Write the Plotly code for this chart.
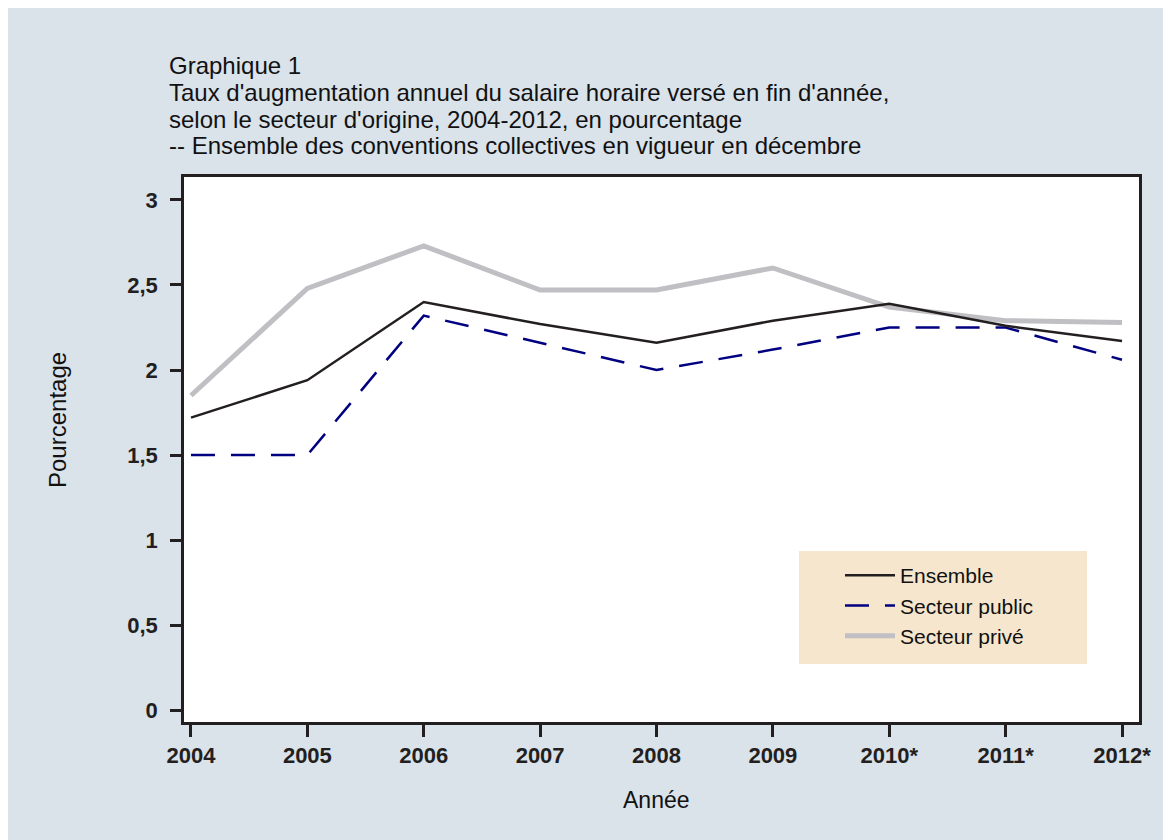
import plotly.graph_objects as go

annees = ["2004", "2005", "2006", "2007", "2008", "2009", "2010*", "2011*", "2012*"]
ensemble = [1.72, 1.94, 2.40, 2.27, 2.16, 2.29, 2.39, 2.26, 2.17]
secteur_public = [1.50, 1.50, 2.32, 2.16, 2.00, 2.12, 2.25, 2.25, 2.06]
secteur_prive = [1.85, 2.48, 2.73, 2.47, 2.47, 2.60, 2.37, 2.29, 2.28]
y_ticks = [0, 0.5, 1, 1.5, 2, 2.5, 3]
titre = [
    "Graphique 1",
    "Taux d'augmentation annuel du salaire horaire versé en fin d'année,",
    "selon le secteur d'origine, 2004-2012, en pourcentage",
    "-- Ensemble des conventions collectives en vigueur en décembre",
]

OFF = 8  # page body margin
W, H = 1171 - OFF, 840 - OFF
# plot area in page pixels: left 184, right 1139, top 177, bottom 722
L, T = 184 - OFF, 177 - OFF
R = W - (1139 - OFF)
B = H - (722 - OFF)
pw, ph = W - L - R, H - T - B


def px(x):
    return (x - OFF - L) / pw


def py(y):
    return (H - B - (y - OFF)) / ph


FONT = "Liberation Sans, Arial, sans-serif"
INK = "#231f20"
BG = "#dae2ea"

fig = go.Figure()
fig.add_trace(go.Scatter(x=annees, y=secteur_prive, name="Secteur privé", mode="lines",
                         legendrank=3, legendgroup="c",
                         line=dict(color="#c0c0c4", width=5)))
fig.add_trace(go.Scatter(x=annees, y=secteur_public, name="Secteur public", mode="lines",
                         legendrank=2, legendgroup="b",
                         line=dict(color="#000080", width=2.5, dash="24px,16px")))
fig.add_trace(go.Scatter(x=annees, y=ensemble, name="Ensemble", mode="lines",
                         legendrank=1, legendgroup="a",
                         line=dict(color=INK, width=2.5)))

annotations = []
for i, ligne in enumerate(titre):
    annotations.append(dict(xref="paper", yref="paper", x=px(167), y=py(65 + 27 * i),
                            xanchor="left", yanchor="middle", align="left", showarrow=False,
                            text=ligne, font=dict(size=24, family=FONT, color="#111")))
annotations += [
    dict(xref="paper", yref="paper", x=px(57), y=py(420), textangle=-90,
         xanchor="center", yanchor="middle", showarrow=False, text="Pourcentage",
         font=dict(size=24, family=FONT, color="#111")),
    dict(xref="paper", yref="paper", x=px(656), y=py(800),
         xanchor="center", yanchor="middle", showarrow=False, text="Année",
         font=dict(size=23, family=FONT, color="#111")),
]

fig.update_layout(
    width=W, height=H,
    margin=dict(l=L, r=R, t=T, b=B),
    paper_bgcolor=BG,
    plot_bgcolor="white",
    separators=", ",
    font=dict(family=FONT, color=INK),
    showlegend=True,
    legend=dict(
        x=px(840), y=py(555), xanchor="left", yanchor="top",
        bgcolor="rgba(0,0,0,0)", borderwidth=0,
        font=dict(size=21, family=FONT, color="#111"),
        traceorder="grouped", tracegroupgap=0,
        itemwidth=50,
    ),
    shapes=[
        dict(type="rect", xref="paper", yref="paper", layer="above",
             x0=px(799), x1=px(1087), y0=py(664), y1=py(551),
             fillcolor="#f5e6cd", line=dict(width=0)),
    ],
    annotations=annotations,
)

fig.update_xaxes(
    type="category", range=[-0.06, 8.146],
    showline=True, linecolor=INK, linewidth=2.5, mirror=True,
    showgrid=False, zeroline=False,
    ticks="outside", ticklen=12, tickwidth=2.5, tickcolor=INK,
    tickfont=dict(size=22, family=FONT, color=INK, weight="bold"),
)
fig.update_yaxes(
    range=[-0.07, 3.135], tickvals=y_ticks,
    showline=True, linecolor=INK, linewidth=2.5, mirror=True,
    showgrid=False, zeroline=False,
    ticks="outside", ticklen=11, tickwidth=2.5, tickcolor=INK,
    ticklabelstandoff=8,
    tickfont=dict(size=22, family=FONT, color=INK, weight="bold"),
)

fig.write_html("out.html")
